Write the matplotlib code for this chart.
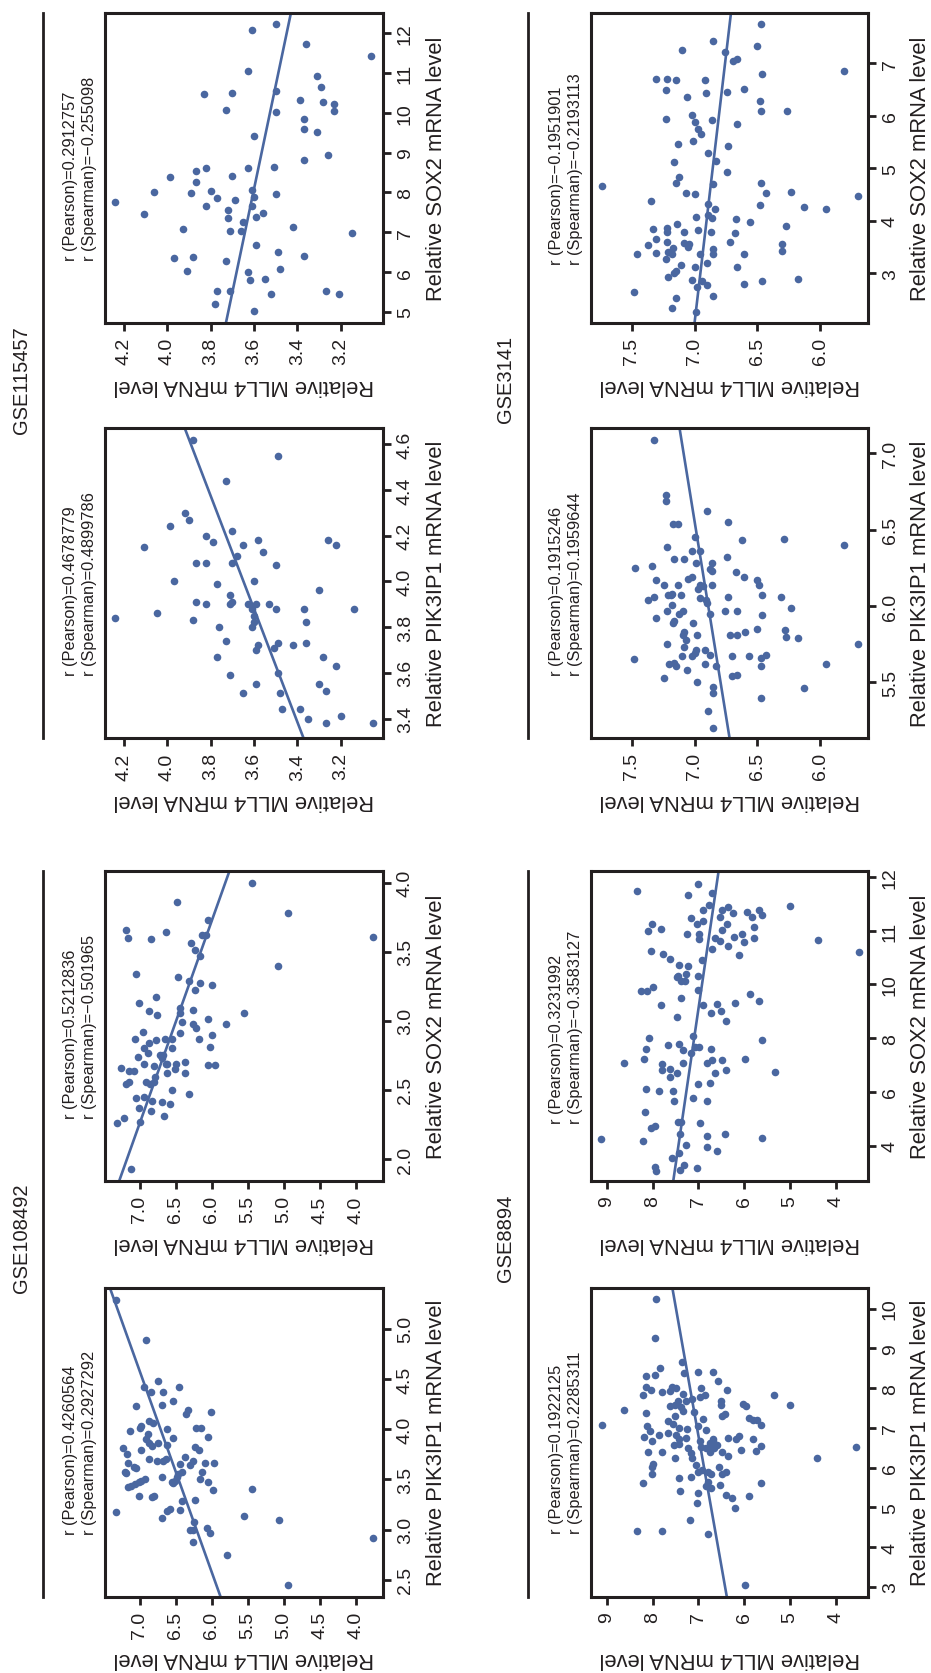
import numpy as np
import matplotlib
matplotlib.use("Agg")
import matplotlib.pyplot as plt
from matplotlib.lines import Line2D
from matplotlib.ticker import FixedLocator, FuncFormatter

# ---------------- data ----------------
# GSE108492
g108_pik3ip1 = [5.29,4.89,4.42,4.48,4.42,4.37,4.37,4.23,4.28,4.24,4.19,4.15,4.17,3.98,4.01,4.03,4.08,4.06,4.00,4.01,
                4.01,3.92,3.95,3.90,3.86,3.91,3.86,3.83,3.81,3.84,3.79,3.75,3.72,3.70,3.68,3.68,3.70,3.82,3.79,3.66,
                3.62,3.61,3.57,3.56,3.65,3.68,3.66,3.66,3.64,3.57,3.55,3.52,3.57,3.52,3.48,3.46,3.47,3.50,3.48,3.47,
                3.45,3.43,3.42,3.50,3.47,3.39,3.40,3.34,3.34,3.33,3.29,3.30,3.21,3.19,3.20,3.12,3.18,3.14,3.08,3.00,
                3.00,3.02,2.97,3.10,2.88,2.75,2.45,2.92]
g108_mll4_p = [7.33,6.91,6.94,6.75,6.46,6.85,6.68,7.05,6.54,6.69,6.33,6.36,6.01,7.14,7.00,6.98,6.88,6.82,6.63,6.22,
               6.15,6.05,6.89,6.91,6.87,6.54,6.75,6.84,7.24,6.63,6.98,7.18,6.38,6.88,6.77,6.68,6.64,6.23,6.18,7.17,
               7.09,7.05,7.21,7.19,6.44,6.26,6.10,5.97,6.31,6.42,6.47,6.49,6.14,6.69,6.51,6.54,6.56,6.93,6.98,7.02,
               7.07,7.12,7.16,6.17,6.06,5.99,5.45,7.01,6.80,6.84,6.42,6.23,6.58,6.63,6.44,6.69,7.33,5.55,6.25,6.27,
               6.31,6.07,6.03,5.07,6.27,5.79,4.94,3.77]
g108_sox2 = [4.00,3.86,3.78,3.66,3.60,3.59,3.64,3.73,3.62,3.62,3.56,3.51,3.47,3.61,3.40,3.34,3.32,3.29,3.27,3.26,
             3.22,3.17,3.13,3.07,3.04,3.09,3.06,3.08,3.06,3.01,2.98,2.99,2.98,2.95,2.92,2.91,2.90,2.87,2.86,2.87,
             2.87,2.87,2.84,2.80,2.80,2.81,2.74,2.77,2.75,2.75,2.66,2.64,2.64,2.69,2.67,2.69,2.69,2.70,2.68,2.68,
             2.65,2.62,2.62,2.69,2.56,2.56,2.56,2.54,2.54,2.50,2.44,2.45,2.42,2.41,2.40,2.47,2.37,2.35,2.31,2.30,
             2.26,2.27,1.93,2.73,2.59]
g108_mll4_s = [5.45,6.49,4.94,7.19,7.16,6.85,6.64,6.06,6.14,6.08,6.29,6.23,6.17,3.77,5.09,7.06,6.47,6.32,6.17,6.00,
               6.24,6.78,7.02,6.88,6.76,6.44,6.45,6.26,5.56,6.06,5.81,6.42,6.27,6.22,6.96,6.44,6.00,7.07,6.78,6.65,
               6.56,6.18,6.87,6.95,6.56,6.03,7.03,6.89,6.72,6.68,7.26,7.15,7.09,6.94,6.81,6.63,6.50,6.37,6.06,5.96,
               6.51,6.63,6.38,6.64,6.91,6.81,7.15,7.20,6.86,6.55,7.06,6.94,6.84,6.70,6.58,6.32,7.02,6.85,6.66,7.22,
               7.32,7.00,7.13,6.69,6.79]

# GSE115457
g115_pik3ip1 = [4.62,4.55,4.44,4.30,4.27,4.24,4.22,4.20,4.17,4.18,4.16,4.13,4.18,4.16,4.15,4.11,4.08,4.08,4.08,4.07,
                4.00,3.99,4.00,3.96,3.94,3.91,3.91,3.90,3.90,3.90,3.90,3.88,3.90,3.88,3.88,3.88,3.86,3.84,3.83,3.85,
                3.82,3.82,3.80,3.80,3.74,3.72,3.70,3.73,3.71,3.72,3.73,3.67,3.67,3.59,3.60,3.63,3.55,3.55,3.51,3.51,
                3.52,3.44,3.44,3.41,3.40,3.38,3.38]
g115_mll4_p = [3.88,3.49,3.73,3.92,3.90,3.99,3.70,3.82,3.79,3.58,3.65,3.56,3.26,3.22,4.11,3.68,3.87,3.82,3.70,3.50,
               3.97,3.77,3.60,3.30,3.71,3.70,3.87,3.82,3.71,3.63,3.59,3.61,3.53,3.50,3.37,3.14,4.05,4.24,3.88,3.60,
               3.60,3.36,3.76,3.61,3.73,3.58,3.59,3.49,3.51,3.42,3.36,3.77,3.28,3.71,3.49,3.22,3.59,3.30,3.65,3.48,
               3.27,3.47,3.39,3.20,3.35,3.27,3.05]
g115_sox2 = [12.23,12.08,11.74,11.44,11.05,10.93,10.64,10.56,10.51,10.47,10.28,10.23,10.33,10.04,10.06,10.03,9.85,9.59,9.52,9.41,
             8.93,8.82,8.62,8.62,8.63,8.54,8.38,8.41,8.26,7.99,8.00,8.04,8.06,7.96,7.85,7.76,7.89,7.80,7.66,7.67,
             7.56,7.48,7.45,7.38,7.35,7.27,7.08,7.03,7.03,7.14,6.97,6.68,6.36,6.38,6.50,6.27,6.40,6.02,6.00,6.08,
             5.80,5.82,5.53,5.53,5.53,5.44,5.45,5.20,5.02]
g115_mll4_s = [3.50,3.61,3.36,3.06,3.63,3.31,3.29,3.50,3.70,3.83,3.28,3.23,3.39,3.23,3.73,3.50,3.37,3.37,3.31,3.60,
               3.26,3.37,3.82,3.63,3.51,3.87,3.99,3.70,3.87,3.89,4.06,3.80,3.61,3.50,3.77,4.24,3.60,3.69,3.82,3.61,
               3.72,3.56,4.11,3.59,3.72,3.65,3.93,3.71,3.66,3.42,3.15,3.59,3.97,3.88,3.49,3.73,3.37,3.91,3.63,3.48,
               3.62,3.55,3.77,3.71,3.27,3.52,3.21,3.78,3.60]

# GSE8894
g88_pik3ip1 = [10.23,9.26,8.66,8.50,8.31,8.34,8.39,8.40,8.41,8.17,8.03,7.96,7.83,7.91,7.92,8.02,8.01,7.85,8.00,7.83,
               7.77,7.96,7.83,7.58,7.68,7.58,7.59,7.55,7.44,7.56,7.58,7.68,7.52,7.43,7.73,7.68,7.41,7.37,7.31,7.34,
               7.29,7.18,7.23,7.24,7.21,7.20,7.07,7.08,7.06,6.92,7.09,7.01,6.97,7.04,6.96,6.76,6.68,6.82,6.87,6.81,
               6.71,6.75,6.68,6.71,6.75,6.71,6.79,6.71,6.51,6.39,6.40,6.56,6.60,6.49,6.37,6.51,6.61,6.47,6.50,6.58,
               6.39,6.29,6.45,6.43,6.54,6.25,6.25,6.24,6.07,6.39,6.68,6.49,6.01,6.10,5.84,5.89,5.95,5.90,5.83,6.01,
               5.84,5.90,5.75,5.77,5.61,5.64,5.54,5.49,5.57,5.61,5.42,5.36,5.32,5.25,5.29,5.12,4.98,4.69,4.42,4.42,
               4.33,3.05]
g88_mll4_p = [7.93,7.95,7.35,7.83,8.14,7.95,7.31,7.02,6.68,6.57,8.15,8.04,8.20,7.79,7.62,7.57,7.48,7.33,6.95,6.85,
              6.96,6.37,5.36,5.01,6.50,6.50,6.03,5.97,8.62,7.62,7.50,7.44,7.38,7.33,7.15,7.26,7.09,8.14,7.51,6.43,
              6.49,7.67,6.91,5.90,5.81,5.72,5.63,9.11,8.13,8.06,7.55,7.43,7.24,7.02,6.83,8.18,8.02,7.86,7.66,7.48,
              7.43,7.28,6.97,6.68,6.36,6.19,6.12,5.81,3.57,8.11,7.79,7.53,7.43,7.23,7.17,6.94,6.75,6.73,6.65,6.59,
              6.49,6.36,6.08,5.74,5.63,4.41,7.50,7.14,7.06,6.75,6.68,6.83,8.02,7.99,8.01,7.01,6.92,6.79,6.72,6.55,
              6.49,6.39,7.42,7.17,8.20,6.79,6.83,6.73,6.52,5.63,7.41,7.01,6.39,6.26,5.90,7.04,6.20,7.19,8.35,7.80,
              6.80,5.99]
g88_sox2 = [11.73,11.87,11.70,11.66,11.46,11.44,11.48,11.39,11.38,11.33,11.35,11.38,11.30,11.25,11.23,11.18,11.25,11.12,11.03,11.12,
            11.12,11.01,11.06,10.99,10.93,10.93,10.85,10.86,10.81,10.94,10.88,10.78,10.86,10.83,10.63,10.72,10.65,10.56,10.54,10.48,
            10.46,10.61,10.37,10.34,10.20,10.16,10.16,10.14,10.06,10.06,9.90,9.74,9.74,9.78,9.63,9.49,9.40,9.22,9.22,9.27,
            9.32,8.93,9.01,8.77,8.62,8.07,8.01,7.95,7.61,7.75,7.78,7.57,7.66,7.66,7.60,7.06,7.23,7.44,7.08,7.09,
            7.17,7.20,7.22,7.02,6.82,6.86,6.72,6.72,6.81,6.55,6.73,6.30,6.34,6.10,6.04,6.02,5.65,5.68,5.78,5.27,
            4.89,4.89,4.84,4.75,4.66,4.43,4.25,4.16,4.43,4.35,4.29,4.01,3.96,3.79,3.73,3.53,3.19,3.07,3.28,3.11,
            3.16]
g88_mll4_s = [8.35,7.02,6.70,7.22,5.00,6.35,6.78,6.89,6.49,6.24,5.95,5.69,5.62,5.84,7.16,6.91,6.53,8.02,7.82,7.04,
              6.38,6.49,5.78,8.11,7.24,6.99,6.99,6.64,6.54,6.06,6.22,6.00,5.79,4.39,8.03,6.36,6.71,7.78,6.11,7.61,
              6.93,3.49,7.42,7.22,7.26,7.44,7.00,7.47,7.39,7.29,8.00,8.25,8.13,7.00,5.88,7.39,5.69,7.82,6.89,6.60,
              6.20,6.73,6.51,7.46,6.40,7.11,8.07,5.62,8.14,7.66,7.42,7.34,7.07,6.98,6.73,8.62,8.18,7.16,7.34,6.82,
              6.70,6.49,5.98,7.80,7.80,7.61,7.47,6.64,6.40,7.63,5.33,7.02,6.75,8.15,7.86,7.55,6.82,7.53,7.11,8.16,
              7.37,7.44,6.97,7.95,8.03,6.43,9.13,8.20,7.40,6.82,5.61,7.26,6.82,6.60,7.42,7.57,7.95,7.93,7.31,7.40,
              7.04]

# GSE3141
g31_pik3ip1 = [7.09,6.73,6.69,6.62,6.54,6.54,6.55,6.45,6.44,6.43,6.39,6.36,6.36,6.40,6.31,6.31,6.32,6.28,6.28,6.25,
               6.26,6.23,6.24,6.22,6.19,6.18,6.19,6.17,6.17,6.14,6.14,6.14,6.13,6.14,6.14,6.11,6.08,6.07,6.07,6.07,
               6.04,6.06,6.06,6.07,6.06,6.05,6.04,6.01,6.02,5.97,5.95,5.97,5.99,5.97,5.97,5.95,5.92,5.94,5.89,5.90,
               5.89,5.85,5.84,5.83,5.81,5.83,5.81,5.81,5.78,5.79,5.81,5.80,5.75,5.75,5.73,5.71,5.71,5.68,5.67,5.69,
               5.67,5.67,5.67,5.68,5.66,5.65,5.63,5.62,5.61,5.62,5.61,5.61,5.62,5.58,5.54,5.55,5.53,5.50,5.47,5.43,
               5.46,5.40,5.31,5.20]
g31_mll4_p = [7.32,7.23,7.23,6.90,7.17,7.13,6.73,7.00,6.29,6.62,7.22,7.02,6.96,5.81,7.16,7.08,6.74,6.86,6.99,7.47,
              7.34,6.86,6.88,6.67,6.61,7.05,7.02,6.50,7.31,7.24,7.13,6.96,6.93,6.86,6.49,6.97,7.18,7.21,7.19,7.11,
              7.37,7.32,6.73,6.46,6.31,6.96,6.91,7.18,6.90,7.22,7.12,7.09,6.23,6.76,6.66,6.88,7.31,6.46,7.01,7.16,
              7.17,6.50,6.28,6.60,6.66,7.08,6.98,7.09,7.07,6.18,6.72,6.27,7.22,5.70,7.08,6.99,6.92,6.88,7.02,7.00,
              7.10,6.70,6.57,6.43,6.47,7.48,7.16,7.20,7.15,6.92,6.83,6.47,5.95,7.06,6.70,6.66,7.24,6.98,6.85,6.85,
              6.13,6.47,6.89,6.85]
g31_sox2 = [7.74,7.32,7.43,7.25,7.22,7.04,7.07,6.79,6.85,6.70,6.70,6.67,6.67,6.48,6.44,6.45,6.51,6.36,6.27,6.08,
            6.09,6.02,5.88,5.94,5.91,5.84,5.75,5.66,5.51,5.46,5.43,5.28,5.13,5.11,4.92,4.84,4.66,4.71,4.70,4.71,
            4.52,4.51,4.53,4.55,4.47,4.38,4.31,4.23,4.30,4.26,4.22,4.07,4.11,4.05,4.03,3.98,3.93,3.85,3.87,3.79,
            3.78,3.82,3.79,3.89,3.76,3.65,3.59,3.54,3.58,3.56,3.50,3.60,3.49,3.47,3.56,3.36,3.38,3.40,3.37,3.36,
            3.36,3.36,3.42,3.27,3.15,3.20,3.12,3.12,3.05,3.00,2.92,2.88,2.85,2.89,2.86,2.79,2.78,2.73,2.65,2.52,
            2.56,2.34,2.27]
g31_mll4_s = [6.47,6.50,6.85,7.10,6.76,6.69,6.66,6.46,5.81,7.31,7.22,7.15,6.92,7.23,6.91,6.74,6.61,7.06,6.48,6.47,
              6.26,7.02,7.00,7.23,6.86,6.66,6.97,6.95,7.01,7.13,6.73,6.89,6.83,7.16,6.74,7.12,7.74,7.15,6.85,6.47,
              7.07,7.00,6.43,6.23,5.70,7.35,6.89,6.84,6.48,6.13,5.95,6.99,6.89,6.86,6.67,6.56,7.14,7.33,7.22,7.22,
              7.08,6.97,6.87,6.27,6.68,7.31,7.22,7.37,7.08,7.04,7.05,6.72,7.17,6.85,6.30,7.46,7.31,7.21,7.18,6.96,
              6.85,6.61,6.30,7.23,7.11,6.90,7.00,6.66,7.15,7.16,7.21,7.02,6.94,6.18,6.46,6.61,6.90,6.98,7.48,7.15,
              6.85,7.18,6.99]

# fitted regression lines: (gene_lo, mll4_at_lo, gene_hi, mll4_at_hi)
fit_g108_p = (2.33, 5.88, 5.41, 7.42)
fit_g108_s = (1.84, 7.29, 4.08, 5.76)
fit_g115_p = (3.31, 3.37, 4.67, 3.92)
fit_g115_s = (4.72, 3.73, 12.51, 3.43)
fit_g31_p = (5.13, 6.72, 7.17, 7.12)
fit_g31_s = (2.05, 7.00, 7.95, 6.71)
fit_g88_p = (2.75, 6.38, 10.53, 7.57)
fit_g88_s = (2.67, 7.55, 12.11, 6.56)

# correlation annotations
txt_g108_p = "r (Pearson)=0.4260564\nr (Spearman)=0.2927292"
txt_g108_s = "r (Pearson)=0.5212836\nr (Spearman)=\u22120.501965"
txt_g115_p = "r (Pearson)=0.4678779\nr (Spearman)=0.4899786"
txt_g115_s = "r (Pearson)=0.2912757\nr (Spearman)=\u22120.255098"
txt_g88_p = "r (Pearson)=0.1922125\nr (Spearman)=0.2285311"
txt_g88_s = "r (Pearson)=0.3231992\nr (Spearman)=\u22120.3583127"
txt_g31_p = "r (Pearson)=0.1915246\nr (Spearman)=0.1959644"
txt_g31_s = "r (Pearson)=\u22120.1951901\nr (Spearman)=\u22120.2193113"

datasets = ["GSE115457", "GSE108492", "GSE3141", "GSE8894"]

# ---------------- style / layout ----------------
plt.rcParams['font.family'] = ['Liberation Sans', 'DejaVu Sans']
DOT = '#4a67a0'
INK = '#231f20'
W, H = 931, 1674
fig = plt.figure(figsize=(W / 100, H / 100), dpi=100)
fig.patch.set_facecolor('white')

COLX = [(105, 383), (591, 868)]
ROWY = [(14, 324), (428.5, 739.4), (872, 1182.4), (1288.5, 1598)]

def fx(x):
    return x / W

def fy(y):
    return 1 - y / H

def sox_fwd(v):
    v = np.asarray(v, dtype=float)
    return np.where(v <= 10, (v - 4) / 2.0, v - 7.0)

def sox_inv(u):
    u = np.asarray(u, dtype=float)
    return np.where(u <= 3, 4 + 2.0 * u, u + 7.0)

panels = [
    (0, 0, g115_sox2, g115_mll4_s, fit_g115_s, txt_g115_s, "SOX2", (4.288, 3.005), (4.72, 12.51),
     [3.2, 3.4, 3.6, 3.8, 4.0, 4.2], list(range(5, 13)), "%.1f", "%d", False),
    (0, 1, g115_pik3ip1, g115_mll4_p, fit_g115_p, txt_g115_p, "PIK3IP1", (4.288, 3.005), (3.313, 4.673),
     [3.2, 3.4, 3.6, 3.8, 4.0, 4.2], [3.4, 3.6, 3.8, 4.0, 4.2, 4.4, 4.6], "%.1f", "%.1f", False),
    (0, 2, g108_sox2, g108_mll4_s, fit_g108_s, txt_g108_s, "SOX2", (7.486, 3.625), (1.838, 4.084),
     [4.0, 4.5, 5.0, 5.5, 6.0, 6.5, 7.0], [2.0, 2.5, 3.0, 3.5, 4.0], "%.1f", "%.1f", False),
    (0, 3, g108_pik3ip1, g108_mll4_p, fit_g108_p, txt_g108_p, "PIK3IP1", (7.486, 3.625), (2.33, 5.41),
     [4.0, 4.5, 5.0, 5.5, 6.0, 6.5, 7.0], [2.5, 3.0, 3.5, 4.0, 4.5, 5.0], "%.1f", "%.1f", False),
    (1, 0, g31_sox2, g31_mll4_s, fit_g31_s, txt_g31_s, "SOX2", (7.824, 5.619), (2.053, 7.954),
     [6.0, 6.5, 7.0, 7.5], [3, 4, 5, 6, 7], "%.1f", "%d", False),
    (1, 1, g31_pik3ip1, g31_mll4_p, fit_g31_p, txt_g31_p, "PIK3IP1", (7.824, 5.619), (5.133, 7.170),
     [6.0, 6.5, 7.0, 7.5], [5.5, 6.0, 6.5, 7.0], "%.1f", "%.1f", False),
    (1, 2, g88_sox2, g88_mll4_s, fit_g88_s, txt_g88_s, "SOX2", (9.342, 3.303), (2.67, 12.11),
     [4, 5, 6, 7, 8, 9], [4, 6, 8, 10, 11, 12], "%d", "%d", True),
    (1, 3, g88_pik3ip1, g88_mll4_p, fit_g88_p, txt_g88_p, "PIK3IP1", (9.342, 3.303), (2.75, 10.53),
     [4, 5, 6, 7, 8, 9], [3, 4, 5, 6, 7, 8, 9, 10], "%d", "%d", False),
]

TICK_FS = 14
LABEL_FS = 15.8
R_FS = 11.8
TITLE_FS = 14.5

for (col, row, gene, mll4, fit, txt, gname, mlim, glim, mticks, gticks, mfmt, gfmt, custom) in panels:
    x0, x1 = COLX[col]
    y0, y1 = ROWY[row]
    ax = fig.add_axes([fx(x0), fy(y1), (x1 - x0) / W, (y1 - y0) / H])
    if custom:
        ax.set_yscale('function', functions=(sox_fwd, sox_inv))
    ax.scatter(mll4, gene, s=30, color=DOT, linewidths=0, zorder=3)
    ax.plot([fit[1], fit[3]], [fit[0], fit[2]], color=DOT, lw=1.9, zorder=2, solid_capstyle='butt')
    ax.set_xlim(*mlim)
    ax.set_ylim(*glim)
    ax.xaxis.set_major_locator(FixedLocator(mticks))
    ax.yaxis.set_major_locator(FixedLocator(gticks))
    ax.xaxis.set_major_formatter(FuncFormatter(lambda v, p, f=mfmt: f % v))
    ax.yaxis.set_major_formatter(FuncFormatter(lambda v, p, f=gfmt: f % v))
    ax.yaxis.set_minor_locator(FixedLocator([]))
    ax.xaxis.set_minor_locator(FixedLocator([]))
    ax.yaxis.tick_right()
    ax.tick_params(axis='both', direction='out', length=6, width=2.0, color=INK,
                   labelsize=TICK_FS, labelcolor=INK, pad=4)
    ax.tick_params(axis='x', labelrotation=90)
    ax.tick_params(axis='y', labelrotation=90)
    for t in ax.yaxis.get_major_ticks():
        t.label2.set_verticalalignment('center')
    for s in ax.spines.values():
        s.set_linewidth(2.2)
        s.set_color(INK)
    cx = (x0 + x1) / 2
    cy = (y0 + y1) / 2
    fig.text(fx(x1 + 53), fy(cy), "Relative %s mRNA level" % gname, rotation=90,
             ha='center', va='center', fontsize=LABEL_FS, color=INK)
    fig.text(fx(cx), fy(y1 + 61), "Relative MLL4 mRNA level", rotation=180,
             ha='center', va='center', fontsize=LABEL_FS, color=INK)
    fig.text(fx(x0 - 25), fy(cy), txt, rotation=90, ha='center', va='center',
             multialignment='left', fontsize=R_FS, color=INK, linespacing=1.35)

group_lines_x = [43, 528]
title_x = [22, 506]
group_spans = [(14, 739.4), (872, 1598)]
for i, name in enumerate(datasets):
    col = i // 2
    span = group_spans[i % 2]
    fig.add_artist(Line2D([fx(group_lines_x[col])] * 2, [fy(span[0]), fy(span[1])],
                          lw=2.0, color=INK))
    fig.text(fx(title_x[col]), fy((span[0] + span[1]) / 2 + 3), name, rotation=90,
             ha='center', va='center', fontsize=TITLE_FS, color=INK)

fig.savefig("out.png", dpi=100, facecolor='white')
